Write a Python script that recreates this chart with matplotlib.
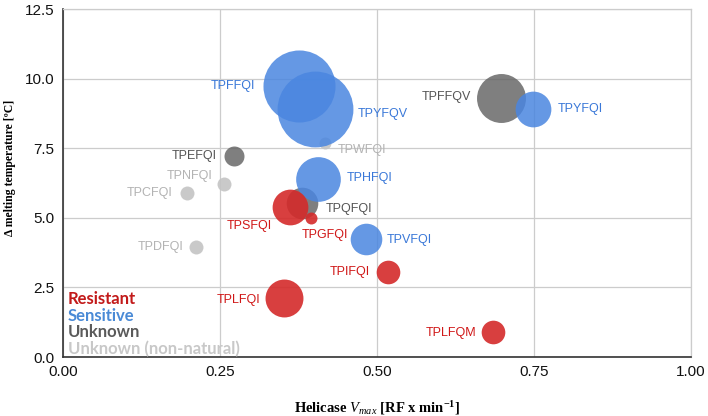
import numpy as np
import matplotlib
matplotlib.use("Agg")
import matplotlib.pyplot as plt

plt.rcParams["font.family"] = ["Liberation Sans", "DejaVu Sans"]
plt.rcParams["mathtext.fontset"] = "custom"
plt.rcParams["mathtext.rm"] = "Liberation Serif:bold"
plt.rcParams["mathtext.it"] = "Liberation Serif:italic"
plt.rcParams["mathtext.bf"] = "Liberation Serif:bold"

# data
peptides = ["TPDFQI", "TPCFQI", "TPNFQI", "TPWFQI",
            "TPEFQI", "TPQFQI", "TPFFQV",
            "TPFFQI", "TPYFQV", "TPHFQI", "TPVFQI", "TPYFQI",
            "TPSFQI", "TPGFQI", "TPLFQI", "TPIFQI", "TPLFQM"]
vmax = [0.212, 0.197, 0.256, 0.417,
        0.272, 0.381, 0.697,
        0.376, 0.401, 0.406, 0.483, 0.749,
        0.361, 0.395, 0.352, 0.518, 0.685]
dtm = [3.95, 5.89, 6.21, 7.69,
       7.22, 5.53, 9.30,
       9.73, 8.90, 6.39, 4.24, 8.90,
       5.39, 4.99, 2.12, 3.05, 0.90]
bubble = [4.9, 4.9, 4.9, 3.6,
          10, 25, 60,
          130, 144, 50, 25, 32,
          32, 3.6, 36, 14, 14]
group = ["non-natural"] * 4 + ["unknown"] * 3 + ["sensitive"] * 5 + ["resistant"] * 5

legend_names = ["Resistant", "Sensitive", "Unknown", "Unknown (non-natural)"]
legend_keys = ["resistant", "sensitive", "unknown", "non-natural"]

# styling
fill = {"resistant": "#d42a2a", "sensitive": "#4a86e0", "unknown": "#5f5f5f", "non-natural": "#c4c4c4"}
alpha = {"resistant": 0.9, "sensitive": 0.85, "unknown": 0.8, "non-natural": 0.9}
label_color = {"resistant": "#d01818", "sensitive": "#3a78d8", "unknown": "#555555", "non-natural": "#b3b3b3"}
legend_color = {"resistant": "#c21a1a", "sensitive": "#4a8ad6", "unknown": "#5a5a5a", "non-natural": "#c8c8c8"}

# label offsets in pixels (dx, dy, ha)
label_pos = {
    "TPFFQI": (-44, 0, "right"), "TPYFQV": (43, -5, "left"), "TPWFQI": (13, -7, "left"),
    "TPEFQI": (-17, 0, "right"), "TPNFQI": (-11, 8, "right"), "TPCFQI": (-14, 0, "right"),
    "TPHFQI": (29, 1, "left"), "TPQFQI": (23, -6, "left"), "TPSFQI": (-18, -19, "right"),
    "TPGFQI": (14, -17, "center"), "TPVFQI": (20, -1, "left"), "TPDFQI": (-13, 0, "right"),
    "TPLFQI": (-24, -2, "right"), "TPIFQI": (-18, 0, "right"), "TPLFQM": (-17, -1, "right"),
    "TPFFQV": (-30, 1, "right"), "TPYFQI": (24, 0, "left"),
}

fig = plt.figure(figsize=(7.08, 4.16), dpi=100)
ax = fig.add_axes([0.089, 0.1418, 0.887, 0.8365])

for i, name in enumerate(peptides):
    g = group[i]
    ax.scatter(vmax[i], dtm[i], s=bubble[i] * 20.7, color=fill[g], alpha=alpha[g],
               linewidths=0, zorder=3)
    dx, dy, ha = label_pos[name]
    ax.annotate(name, (vmax[i], dtm[i]), xytext=(dx, dy), textcoords="offset pixels",
                ha=ha, va="center", fontsize=9, color=label_color[g], zorder=4)

ax.set_xlim(0, 1.0)
ax.set_ylim(0, 12.5)
ax.set_xticks(np.arange(0, 1.01, 0.25))
ax.set_yticks(np.arange(0, 12.6, 2.5))
ax.set_xticklabels([f"{v:.2f}" for v in np.arange(0, 1.01, 0.25)])
ax.set_yticklabels([f"{v:.1f}" for v in np.arange(0, 12.6, 2.5)])
ax.tick_params(length=0, labelsize=11, colors="#111111", pad=6)
ax.grid(True, color="#cccccc", linewidth=0.9, zorder=0)
ax.set_axisbelow(True)
for side in ["top", "right"]:
    ax.spines[side].set_color("#cccccc")
    ax.spines[side].set_linewidth(0.9)
for side in ["left", "bottom"]:
    ax.spines[side].set_color("#333333")
    ax.spines[side].set_linewidth(1.2)

for k, (nm, key) in enumerate(zip(legend_names, legend_keys)):
    ax.text(0.008, 0.167 - k * 0.048, nm, transform=ax.transAxes, fontsize=12,
            family="Lato", fontweight="bold", color=legend_color[key], va="center", zorder=5)

ax.set_xlabel(r"Helicase $\mathit{V}_{\mathit{max}}$ [RF x min$^{-1}$]",
              family="Liberation Serif", fontweight="bold", fontsize=10.5, labelpad=14)
ax.set_ylabel("Δ melting temperature [ºC]", family="Liberation Serif",
              fontweight="bold", fontsize=8.5)
ax.yaxis.set_label_coords(-0.075, 0.543)

fig.savefig("out.png", dpi=100)
